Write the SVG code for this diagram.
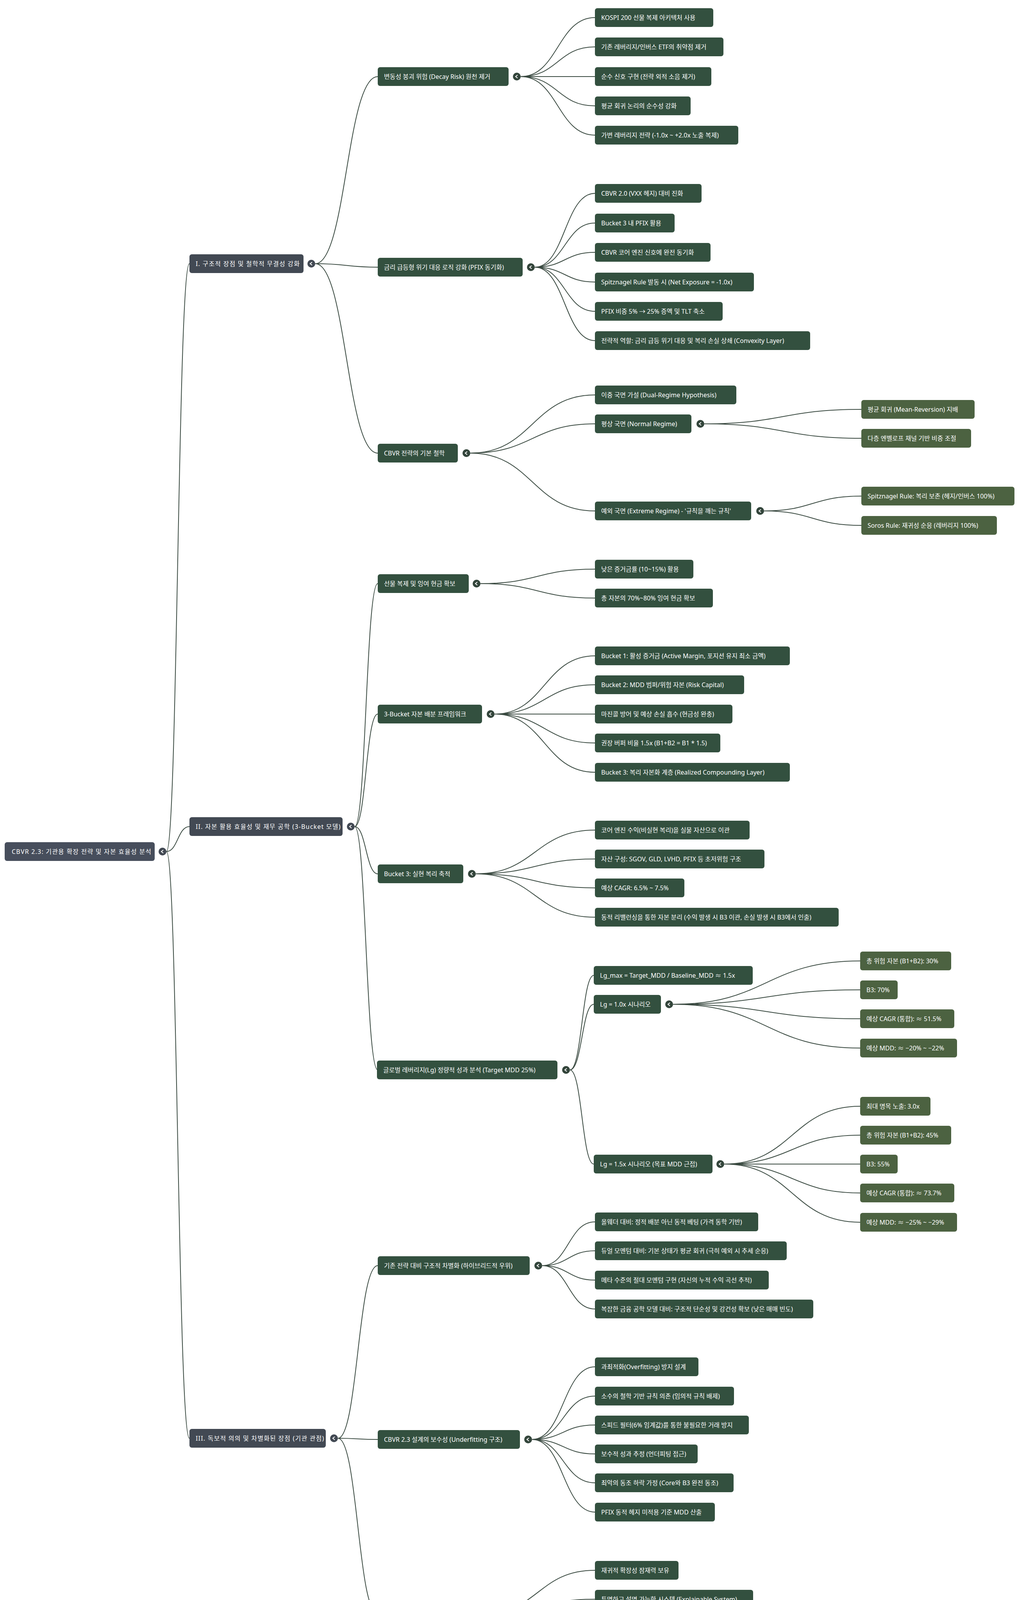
<svg xmlns="http://www.w3.org/2000/svg" width="2624" height="4289" viewBox="0 0 2624 4289">
<style>
.r{fill:#474e5c}.l1{fill:#424953}.g{fill:#33503f}.o{fill:#4c6241}
text{font-family:"Noto Sans","Noto Sans CJK KR",sans-serif;font-size:16px;fill:#ffffff;dominant-baseline:central}
.sp{letter-spacing:1.2px}
.e{fill:none;stroke:#3a4a41;stroke-width:2}
.c{fill:#33453b}.c1{fill:#424953}
.ch{fill:none;stroke:#fff;stroke-width:2}
</style>
<rect width="2624" height="4289" fill="#ffffff"/>
<g id="connectors">
<path class="e" d="M426,2180 C455,2180 455,675 485,675"/>
<path class="e" d="M426,2180 C455,2180 455,2116 485,2116"/>
<path class="e" d="M426,2180 C455,2180 455,3682 485,3682"/>
<path class="e" d="M807,675 C887,675 887,196 967,196"/>
<path class="e" d="M807,675 C887,675 887,684 967,684"/>
<path class="e" d="M807,675 C887,675 887,1160 967,1160"/>
<path class="e" d="M908,2116 C937,2116 937,1494 967,1494"/>
<path class="e" d="M908,2116 C937,2116 937,1828 967,1828"/>
<path class="e" d="M908,2116 C937,2116 937,2237 967,2237"/>
<path class="e" d="M908,2116 C937,2116 937,2739 967,2739"/>
<path class="e" d="M865,3682 C916,3682 916,3240 967,3240"/>
<path class="e" d="M865,3682 C916,3682 916,3685 967,3685"/>
<path class="e" d="M865,3682 C916,3682 916,4131 967,4131"/>
<path class="e" d="M1333,196 C1428,196 1428,45 1523,45"/>
<path class="e" d="M1333,196 C1428,196 1428,120 1523,120"/>
<path class="e" d="M1333,196 C1428,196 1428,196 1523,196"/>
<path class="e" d="M1333,196 C1428,196 1428,271 1523,271"/>
<path class="e" d="M1333,196 C1428,196 1428,346 1523,346"/>
<path class="e" d="M1369,684 C1446,684 1446,495 1523,495"/>
<path class="e" d="M1369,684 C1446,684 1446,571 1523,571"/>
<path class="e" d="M1369,684 C1446,684 1446,646 1523,646"/>
<path class="e" d="M1369,684 C1446,684 1446,722 1523,722"/>
<path class="e" d="M1369,684 C1446,684 1446,797 1523,797"/>
<path class="e" d="M1369,684 C1446,684 1446,872 1523,872"/>
<path class="e" d="M1204,1160 C1363,1160 1363,1011 1523,1011"/>
<path class="e" d="M1204,1160 C1363,1160 1363,1085 1523,1085"/>
<path class="e" d="M1204,1160 C1363,1160 1363,1308 1523,1308"/>
<path class="e" d="M1803,1085 C2004,1085 2004,1048 2205,1048"/>
<path class="e" d="M1803,1085 C2004,1085 2004,1122 2205,1122"/>
<path class="e" d="M1956,1308 C2080,1308 2080,1270 2205,1270"/>
<path class="e" d="M1956,1308 C2080,1308 2080,1345 2205,1345"/>
<path class="e" d="M1230,1494 C1376,1494 1376,1457 1523,1457"/>
<path class="e" d="M1230,1494 C1376,1494 1376,1531 1523,1531"/>
<path class="e" d="M1266,1828 C1394,1828 1394,1679 1523,1679"/>
<path class="e" d="M1266,1828 C1394,1828 1394,1753 1523,1753"/>
<path class="e" d="M1266,1828 C1394,1828 1394,1828 1523,1828"/>
<path class="e" d="M1266,1828 C1394,1828 1394,1902 1523,1902"/>
<path class="e" d="M1266,1828 C1394,1828 1394,1977 1523,1977"/>
<path class="e" d="M1218,2237 C1370,2237 1370,2125 1523,2125"/>
<path class="e" d="M1218,2237 C1370,2237 1370,2199 1523,2199"/>
<path class="e" d="M1218,2237 C1370,2237 1370,2273 1523,2273"/>
<path class="e" d="M1218,2237 C1370,2237 1370,2348 1523,2348"/>
<path class="e" d="M1459,2739 C1490,2739 1490,2497 1520,2497"/>
<path class="e" d="M1459,2739 C1490,2739 1490,2571 1520,2571"/>
<path class="e" d="M1459,2739 C1490,2739 1490,2980 1520,2980"/>
<path class="e" d="M1723,2571 C1962,2571 1962,2460 2202,2460"/>
<path class="e" d="M1723,2571 C1962,2571 1962,2534 2202,2534"/>
<path class="e" d="M1723,2571 C1962,2571 1962,2608 2202,2608"/>
<path class="e" d="M1723,2571 C1962,2571 1962,2683 2202,2683"/>
<path class="e" d="M1854,2980 C2028,2980 2028,2832 2202,2832"/>
<path class="e" d="M1854,2980 C2028,2980 2028,2906 2202,2906"/>
<path class="e" d="M1854,2980 C2028,2980 2028,2980 2202,2980"/>
<path class="e" d="M1854,2980 C2028,2980 2028,3054 2202,3054"/>
<path class="e" d="M1854,2980 C2028,2980 2028,3129 2202,3129"/>
<path class="e" d="M1388,3240 C1455,3240 1455,3128 1523,3128"/>
<path class="e" d="M1388,3240 C1455,3240 1455,3202 1523,3202"/>
<path class="e" d="M1388,3240 C1455,3240 1455,3277 1523,3277"/>
<path class="e" d="M1388,3240 C1455,3240 1455,3351 1523,3351"/>
<path class="e" d="M1362,3685 C1442,3685 1442,3499 1523,3499"/>
<path class="e" d="M1362,3685 C1442,3685 1442,3574 1523,3574"/>
<path class="e" d="M1362,3685 C1442,3685 1442,3648 1523,3648"/>
<path class="e" d="M1362,3685 C1442,3685 1442,3722 1523,3722"/>
<path class="e" d="M1362,3685 C1442,3685 1442,3796 1523,3796"/>
<path class="e" d="M1362,3685 C1442,3685 1442,3871 1523,3871"/>
<path class="e" d="M1234,4131 C1378,4131 1378,4020 1523,4020"/>
<path class="e" d="M1234,4131 C1378,4131 1378,4094 1523,4094"/>
<path class="e" d="M1234,4131 C1378,4131 1378,4168 1523,4168"/>
<path class="e" d="M1234,4131 C1378,4131 1378,4242 1523,4242"/>
</g>
<g id="toggles">
<g transform="translate(416,2180)"><circle class="c1" r="10"/><path class="ch" d="M2,-4 L-3,0 L2,4"/></g>
<g transform="translate(797,675)"><circle class="c1" r="10"/><path class="ch" d="M2,-4 L-3,0 L2,4"/></g>
<g transform="translate(898,2116)"><circle class="c1" r="10"/><path class="ch" d="M2,-4 L-3,0 L2,4"/></g>
<g transform="translate(855,3682)"><circle class="c1" r="10"/><path class="ch" d="M2,-4 L-3,0 L2,4"/></g>
<g transform="translate(1323,196)"><circle class="c" r="10"/><path class="ch" d="M2,-4 L-3,0 L2,4"/></g>
<g transform="translate(1359,684)"><circle class="c" r="10"/><path class="ch" d="M2,-4 L-3,0 L2,4"/></g>
<g transform="translate(1194,1160)"><circle class="c" r="10"/><path class="ch" d="M2,-4 L-3,0 L2,4"/></g>
<g transform="translate(1793,1085)"><circle class="c" r="10"/><path class="ch" d="M2,-4 L-3,0 L2,4"/></g>
<g transform="translate(1946,1308)"><circle class="c" r="10"/><path class="ch" d="M2,-4 L-3,0 L2,4"/></g>
<g transform="translate(1220,1494)"><circle class="c" r="10"/><path class="ch" d="M2,-4 L-3,0 L2,4"/></g>
<g transform="translate(1256,1828)"><circle class="c" r="10"/><path class="ch" d="M2,-4 L-3,0 L2,4"/></g>
<g transform="translate(1208,2237)"><circle class="c" r="10"/><path class="ch" d="M2,-4 L-3,0 L2,4"/></g>
<g transform="translate(1449,2739)"><circle class="c" r="10"/><path class="ch" d="M2,-4 L-3,0 L2,4"/></g>
<g transform="translate(1713,2571)"><circle class="c" r="10"/><path class="ch" d="M2,-4 L-3,0 L2,4"/></g>
<g transform="translate(1844,2980)"><circle class="c" r="10"/><path class="ch" d="M2,-4 L-3,0 L2,4"/></g>
<g transform="translate(1378,3240)"><circle class="c" r="10"/><path class="ch" d="M2,-4 L-3,0 L2,4"/></g>
<g transform="translate(1352,3685)"><circle class="c" r="10"/><path class="ch" d="M2,-4 L-3,0 L2,4"/></g>
<g transform="translate(1224,4131)"><circle class="c" r="10"/><path class="ch" d="M2,-4 L-3,0 L2,4"/></g>
</g>
<g id="root"><rect class="r" x="12" y="2156" width="384" height="48" rx="6"/><text class="sp" x="30" y="2180">CBVR 2.3: 기관용 확장 전략 및 자본 효율성 분석</text></g>
<g id="n1"><rect class="l1" x="485" y="651" width="292" height="48" rx="6"/><text class="sp" x="501" y="675">I. 구조적 장점 및 철학적 무결성 강화</text></g>
<g id="n2"><rect class="l1" x="485" y="2092" width="392" height="48" rx="6"/><text class="sp" x="501" y="2116">II. 자본 활용 효율성 및 재무 공학 (3-Bucket 모델)</text></g>
<g id="n3"><rect class="l1" x="485" y="3658" width="349" height="48" rx="6"/><text class="sp" x="501" y="3682">III. 독보적 의의 및 차별화된 장점 (기관 관점)</text></g>
<g id="n1a"><rect class="g" x="967" y="172" width="335" height="48" rx="6"/><text x="983" y="196">변동성 붕괴 위험 (Decay Risk) 원천 제거</text></g>
<g id="n1a1"><rect class="g" x="1523" y="21" width="303" height="48" rx="6"/><text x="1539" y="45">KOSPI 200 선물 복제 아키텍처 사용</text></g>
<g id="n1a2"><rect class="g" x="1523" y="96" width="329" height="48" rx="6"/><text x="1539" y="120">기존 레버리지/인버스 ETF의 취약점 제거</text></g>
<g id="n1a3"><rect class="g" x="1523" y="172" width="298" height="48" rx="6"/><text x="1539" y="196">순수 신호 구현 (전략 외적 소음 제거)</text></g>
<g id="n1a4"><rect class="g" x="1523" y="247" width="245" height="48" rx="6"/><text x="1539" y="271">평균 회귀 논리의 순수성 강화</text></g>
<g id="n1a5"><rect class="g" x="1523" y="322" width="367" height="48" rx="6"/><text x="1539" y="346">가변 레버리지 전략 (-1.0x ~ +2.0x 노출 복제)</text></g>
<g id="n1b"><rect class="g" x="967" y="660" width="371" height="48" rx="6"/><text x="983" y="684">금리 급등형 위기 대응 로직 강화 (PFIX 동기화)</text></g>
<g id="n1b1"><rect class="g" x="1523" y="471" width="273" height="48" rx="6"/><text x="1539" y="495">CBVR 2.0 (VXX 헤지) 대비 진화</text></g>
<g id="n1b2"><rect class="g" x="1523" y="547" width="204" height="48" rx="6"/><text x="1539" y="571">Bucket 3 내 PFIX 활용</text></g>
<g id="n1b3"><rect class="g" x="1523" y="622" width="296" height="48" rx="6"/><text x="1539" y="646">CBVR 코어 엔진 신호에 완전 동기화</text></g>
<g id="n1b4"><rect class="g" x="1523" y="698" width="407" height="48" rx="6"/><text x="1539" y="722">Spitznagel Rule 발동 시 (Net Exposure = -1.0x)</text></g>
<g id="n1b5"><rect class="g" x="1523" y="773" width="327" height="48" rx="6"/><text x="1539" y="797">PFIX 비중 5% → 25% 증액 및 TLT 축소</text></g>
<g id="n1b6"><rect class="g" x="1523" y="848" width="551" height="48" rx="6"/><text x="1539" y="872">전략적 역할: 금리 급등 위기 대응 및 복리 손실 상쇄 (Convexity Layer)</text></g>
<g id="n1c"><rect class="g" x="967" y="1136" width="205" height="48" rx="6"/><text x="983" y="1160">CBVR 전략의 기본 철학</text></g>
<g id="n1c1"><rect class="g" x="1523" y="987" width="362" height="48" rx="6"/><text x="1539" y="1011">이중 국면 가설 (Dual-Regime Hypothesis)</text></g>
<g id="n1c2"><rect class="g" x="1523" y="1061" width="247" height="48" rx="6"/><text x="1539" y="1085">평상 국면 (Normal Regime)</text></g>
<g id="n1c2a"><rect class="o" x="2205" y="1024" width="290" height="48" rx="6"/><text x="2221" y="1048">평균 회귀 (Mean-Reversion) 지배</text></g>
<g id="n1c2b"><rect class="o" x="2205" y="1098" width="281" height="48" rx="6"/><text x="2221" y="1122">다층 엔벨로프 채널 기반 비중 조절</text></g>
<g id="n1c3"><rect class="g" x="1523" y="1284" width="400" height="48" rx="6"/><text x="1539" y="1308">예외 국면 (Extreme Regime) - '규칙을 깨는 규칙'</text></g>
<g id="n1c3a"><rect class="o" x="2205" y="1246" width="392" height="48" rx="6"/><text x="2221" y="1270">Spitznagel Rule: 복리 보존 (헤지/인버스 100%)</text></g>
<g id="n1c3b"><rect class="o" x="2205" y="1321" width="347" height="48" rx="6"/><text x="2221" y="1345">Soros Rule: 재귀성 순응 (레버리지 100%)</text></g>
<g id="n2a"><rect class="g" x="967" y="1470" width="233" height="48" rx="6"/><text x="983" y="1494">선물 복제 및 잉여 현금 확보</text></g>
<g id="n2a1"><rect class="g" x="1523" y="1433" width="252" height="48" rx="6"/><text x="1539" y="1457">낮은 증거금률 (10~15%) 활용</text></g>
<g id="n2a2"><rect class="g" x="1523" y="1507" width="302" height="48" rx="6"/><text x="1539" y="1531">총 자본의 70%~80% 잉여 현금 확보</text></g>
<g id="n2b"><rect class="g" x="967" y="1804" width="267" height="48" rx="6"/><text x="983" y="1828">3-Bucket 자본 배분 프레임워크</text></g>
<g id="n2b1"><rect class="g" x="1523" y="1655" width="499" height="48" rx="6"/><text x="1539" y="1679">Bucket 1: 활성 증거금 (Active Margin, 포지션 유지 최소 금액)</text></g>
<g id="n2b2"><rect class="g" x="1523" y="1729" width="382" height="48" rx="6"/><text x="1539" y="1753">Bucket 2: MDD 범퍼/위험 자본 (Risk Capital)</text></g>
<g id="n2b3"><rect class="g" x="1523" y="1804" width="352" height="48" rx="6"/><text x="1539" y="1828">마진콜 방어 및 예상 손실 흡수 (현금성 완충)</text></g>
<g id="n2b4"><rect class="g" x="1523" y="1878" width="321" height="48" rx="6"/><text x="1539" y="1902">권장 버퍼 비율 1.5x (B1+B2 = B1 * 1.5)</text></g>
<g id="n2b5"><rect class="g" x="1523" y="1953" width="499" height="48" rx="6"/><text x="1539" y="1977">Bucket 3: 복리 자본화 계층 (Realized Compounding Layer)</text></g>
<g id="n2c"><rect class="g" x="967" y="2213" width="219" height="48" rx="6"/><text x="983" y="2237">Bucket 3: 실현 복리 축적</text></g>
<g id="n2c1"><rect class="g" x="1523" y="2101" width="396" height="48" rx="6"/><text x="1539" y="2125">코어 엔진 수익(비실현 복리)을 실물 자산으로 이관</text></g>
<g id="n2c2"><rect class="g" x="1523" y="2175" width="434" height="48" rx="6"/><text x="1539" y="2199">자산 구성: SGOV, GLD, LVHD, PFIX 등 초저위험 구조</text></g>
<g id="n2c3"><rect class="g" x="1523" y="2249" width="229" height="48" rx="6"/><text x="1539" y="2273">예상 CAGR: 6.5% ~ 7.5%</text></g>
<g id="n2c4"><rect class="g" x="1523" y="2324" width="624" height="48" rx="6"/><text x="1539" y="2348">동적 리밸런싱을 통한 자본 분리 (수익 발생 시 B3 이관, 손실 발생 시 B3에서 인출)</text></g>
<g id="n2d"><rect class="g" x="965" y="2715" width="462" height="48" rx="6"/><text x="981" y="2739">글로벌 레버리지(Lg) 정량적 성과 분석 (Target MDD 25%)</text></g>
<g id="n2d1"><rect class="g" x="1520" y="2473" width="407" height="48" rx="6"/><text x="1536" y="2497">Lg_max = Target_MDD / Baseline_MDD ≈ 1.5x</text></g>
<g id="n2d2"><rect class="g" x="1520" y="2547" width="172" height="48" rx="6"/><text x="1536" y="2571">Lg = 1.0x 시나리오</text></g>
<g id="n2d2a"><rect class="o" x="2202" y="2436" width="233" height="48" rx="6"/><text x="2218" y="2460">총 위험 자본 (B1+B2): 30%</text></g>
<g id="n2d2b"><rect class="o" x="2202" y="2510" width="96" height="48" rx="6"/><text x="2218" y="2534">B3: 70%</text></g>
<g id="n2d2c"><rect class="o" x="2202" y="2584" width="241" height="48" rx="6"/><text x="2218" y="2608">예상 CAGR (통합): ≈ 51.5%</text></g>
<g id="n2d2d"><rect class="o" x="2202" y="2659" width="248" height="48" rx="6"/><text x="2218" y="2683">예상 MDD: ≈ −20% ~ −22%</text></g>
<g id="n2d3"><rect class="g" x="1520" y="2956" width="304" height="48" rx="6"/><text x="1536" y="2980">Lg = 1.5x 시나리오 (목표 MDD 근접)</text></g>
<g id="n2d3a"><rect class="o" x="2202" y="2808" width="180" height="48" rx="6"/><text x="2218" y="2832">최대 명목 노출: 3.0x</text></g>
<g id="n2d3b"><rect class="o" x="2202" y="2882" width="233" height="48" rx="6"/><text x="2218" y="2906">총 위험 자본 (B1+B2): 45%</text></g>
<g id="n2d3c"><rect class="o" x="2202" y="2956" width="96" height="48" rx="6"/><text x="2218" y="2980">B3: 55%</text></g>
<g id="n2d3d"><rect class="o" x="2202" y="3030" width="241" height="48" rx="6"/><text x="2218" y="3054">예상 CAGR (통합): ≈ 73.7%</text></g>
<g id="n2d3e"><rect class="o" x="2202" y="3105" width="248" height="48" rx="6"/><text x="2218" y="3129">예상 MDD: ≈ −25% ~ −29%</text></g>
<g id="n3a"><rect class="g" x="967" y="3216" width="389" height="48" rx="6"/><text x="983" y="3240">기존 전략 대비 구조적 차별화 (하이브리드적 우위)</text></g>
<g id="n3a1"><rect class="g" x="1523" y="3104" width="418" height="48" rx="6"/><text x="1539" y="3128">올웨더 대비: 정적 배분 아닌 동적 베팅 (가격 동학 기반)</text></g>
<g id="n3a2"><rect class="g" x="1523" y="3178" width="491" height="48" rx="6"/><text x="1539" y="3202">듀얼 모멘텀 대비: 기본 상태가 평균 회귀 (극히 예외 시 추세 순응)</text></g>
<g id="n3a3"><rect class="g" x="1523" y="3253" width="445" height="48" rx="6"/><text x="1539" y="3277">메타 수준의 절대 모멘텀 구현 (자신의 누적 수익 곡선 추적)</text></g>
<g id="n3a4"><rect class="g" x="1523" y="3327" width="559" height="48" rx="6"/><text x="1539" y="3351">복잡한 금융 공학 모델 대비: 구조적 단순성 및 강건성 확보 (낮은 매매 빈도)</text></g>
<g id="n3b"><rect class="g" x="967" y="3661" width="364" height="48" rx="6"/><text x="983" y="3685">CBVR 2.3 설계의 보수성 (Underfitting 구조)</text></g>
<g id="n3b1"><rect class="g" x="1523" y="3475" width="265" height="48" rx="6"/><text x="1539" y="3499">과최적화(Overfitting) 방지 설계</text></g>
<g id="n3b2"><rect class="g" x="1523" y="3550" width="356" height="48" rx="6"/><text x="1539" y="3574">소수의 철학 기반 규칙 의존 (임의적 규칙 배제)</text></g>
<g id="n3b3"><rect class="g" x="1523" y="3624" width="394" height="48" rx="6"/><text x="1539" y="3648">스피드 필터(6% 임계값)를 통한 불필요한 거래 방지</text></g>
<g id="n3b4"><rect class="g" x="1523" y="3698" width="263" height="48" rx="6"/><text x="1539" y="3722">보수적 성과 추정 (언더피팅 접근)</text></g>
<g id="n3b5"><rect class="g" x="1523" y="3772" width="355" height="48" rx="6"/><text x="1539" y="3796">최악의 동조 하락 가정 (Core와 B3 완전 동조)</text></g>
<g id="n3b6"><rect class="g" x="1523" y="3847" width="307" height="48" rx="6"/><text x="1539" y="3871">PFIX 동적 헤지 미적용 기준 MDD 산출</text></g>
<g id="n3c"><rect class="g" x="967" y="4107" width="236" height="48" rx="6"/><text x="983" y="4131">기관 전략으로서의 최종 평가</text></g>
<g id="n3c1"><rect class="g" x="1523" y="3996" width="214" height="48" rx="6"/><text x="1539" y="4020">재귀적 확장성 잠재력 보유</text></g>
<g id="n3c2"><rect class="g" x="1523" y="4070" width="405" height="48" rx="6"/><text x="1539" y="4094">투명하고 설명 가능한 시스템 (Explainable System)</text></g>
<g id="n3c3"><rect class="g" x="1523" y="4144" width="580" height="48" rx="6"/><text x="1539" y="4168">핵심 구조: 선물 복제, 복리 보존 철학, 실물 자산 축적, PFIX Convexity Layer</text></g>
<g id="n3c4"><rect class="g" x="1523" y="4218" width="467" height="48" rx="6"/><text x="1539" y="4242">평가: 준(準)표준형 Systemic Strategy 완성도 (연기금 수준)</text></g>
</svg>
